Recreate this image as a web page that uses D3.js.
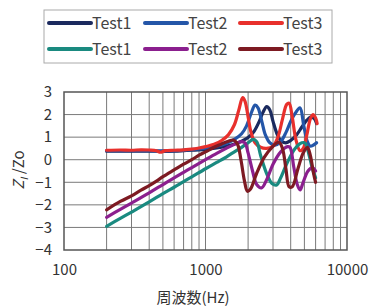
<!DOCTYPE html>
<html><head><meta charset="utf-8">
<script src="https://cdn.jsdelivr.net/npm/d3@7"></script>
<style>body{margin:0;background:#fff;}svg{display:block;}</style>
</head><body>
<svg id="c" width="370" height="307"></svg>
<script>
const legendLabels = ["Test1","Test2","Test3","Test1","Test2","Test3"];
const seriesColors = ["#1b2a5e","#2456a8","#e8302c","#1a8a80","#8b1f8e","#7d1a22"];
const xTicks = [100,1000,10000];
const yTicks = [3,2,1,0,-1,-2,-3,-4];

const navy1 = [[200,0.38],[300,0.38],[400,0.38],[500,0.37],[600,0.38],[700,0.40],[800,0.42],[1000,0.46],[1200,0.52],[1400,0.6],[1600,0.7],[1800,0.82],[2000,0.98],[2200,1.25],[2400,1.7],[2550,2.1],[2710,2.35],[2850,2.2],[3000,1.7],[3200,1.15],[3400,0.85],[3700,0.75],[4000,0.85],[4400,1.1],[4800,1.45],[5200,1.75],[5600,1.9],[5900,1.8],[6100,1.6]];
const blue2 = [[200,0.40],[300,0.40],[400,0.40],[500,0.39],[600,0.40],[700,0.42],[800,0.45],[900,0.48],[1000,0.52],[1200,0.60],[1400,0.72],[1600,0.9],[1800,1.15],[1950,1.5],[2100,2.05],[2240,2.42],[2350,2.3],[2500,1.7],[2650,1.1],[2850,0.75],[3100,0.65],[3400,0.8],[3700,1.2],[4000,1.7],[4300,2.05],[4650,2.3],[4950,1.5],[5250,0.8],[5500,0.6],[5800,0.65],[6100,0.75]];
const red3 = [[200,0.42],[250,0.43],[300,0.42],[350,0.44],[400,0.43],[450,0.40],[480,0.33],[520,0.40],[600,0.42],[700,0.44],[800,0.47],[900,0.52],[1000,0.58],[1150,0.68],[1300,0.85],[1450,1.1],[1600,1.55],[1720,2.2],[1830,2.75],[1900,2.6],[2000,1.9],[2100,1.2],[2240,0.75],[2450,0.55],[2700,0.5],[3000,0.6],[3250,1.0],[3500,1.8],[3750,2.45],[3900,2.5],[4100,1.9],[4350,0.9],[4650,0.4],[4900,0.5],[5200,1.1],[5500,1.8],[5750,2.0],[6000,1.85],[6150,1.6]];
const teal1 = [[200,-2.95],[250,-2.6],[300,-2.32],[400,-1.87],[500,-1.5],[600,-1.22],[700,-0.97],[800,-0.76],[1000,-0.4],[1200,-0.12],[1400,0.12],[1600,0.35],[1800,0.55],[2000,0.75],[2170,0.9],[2300,0.8],[2450,0.2],[2700,-0.6],[2950,-1.05],[3185,-1.12],[3400,-0.8],[3800,-0.1],[4300,0.5],[4800,0.75],[5050,0.74],[5400,0.2],[5700,-0.4],[6000,-0.8]];
const purple2 = [[200,-2.55],[250,-2.2],[300,-1.92],[400,-1.47],[500,-1.1],[600,-0.8],[700,-0.56],[800,-0.35],[1000,0.0],[1200,0.28],[1400,0.5],[1600,0.68],[1800,0.8],[1900,0.75],[2000,0.3],[2150,-0.5],[2300,-1.1],[2490,-1.25],[2700,-0.9],[3000,-0.2],[3400,0.35],[3800,0.58],[3955,0.55],[4200,-0.3],[4450,-1.1],[4660,-1.34],[4900,-1.0],[5300,-0.5],[5700,-0.35],[6000,-0.5]];
const darkred3 = [[200,-2.22],[250,-1.85],[300,-1.6],[350,-1.35],[400,-1.15],[450,-0.95],[500,-0.75],[600,-0.45],[700,-0.2],[800,0.0],[900,0.2],[1000,0.35],[1150,0.55],[1300,0.7],[1450,0.82],[1570,0.87],[1680,0.7],[1780,0.0],[1880,-0.9],[1980,-1.4],[2080,-1.3],[2300,-0.6],[2600,0.1],[2950,0.55],[3300,0.78],[3500,0.5],[3700,-0.4],[3900,-1.2],[4100,-1.2],[4500,-0.4],[4900,0.3],[5250,0.55],[5500,0.2],[5800,-0.6],[6000,-1.0]];

const series = [navy1, blue2, red3, teal1, purple2, darkred3];

const svg = d3.select("#c");
const L=64, R=347, T=92, B=250;
const x = d3.scaleLog().domain([100,10000]).range([L,R]);
const y = d3.scaleLinear().domain([-4,3]).range([B,T]);
const font = "'Noto Sans CJK JP','Noto Sans',sans-serif";

// grid
const minor = [];
[100,1000].forEach(d=>{for(let k=2;k<=9;k++) minor.push(d*k);});
minor.push(1000);
svg.append("g").selectAll("line").data(minor).join("line")
  .attr("x1",d=>x(d)).attr("x2",d=>x(d)).attr("y1",T).attr("y2",B)
  .attr("stroke","#7a7a7a").attr("stroke-width",1);
svg.append("g").selectAll("line").data(yTicks.filter(v=>v>-4&&v<3)).join("line")
  .attr("x1",L).attr("x2",R).attr("y1",d=>y(d)).attr("y2",d=>y(d))
  .attr("stroke","#7a7a7a").attr("stroke-width",1);
svg.append("rect").attr("x",L).attr("y",T).attr("width",R-L).attr("height",B-T)
  .attr("fill","none").attr("stroke","#555").attr("stroke-width",1.5);

// axes labels via d3 axes
const yAxis = svg.append("g").attr("transform",`translate(${L},0)`)
  .call(d3.axisLeft(y).tickValues(yTicks).tickSize(0).tickPadding(12).tickFormat(d=>d<0?"\u2212"+Math.abs(d):d));
yAxis.select(".domain").remove();
yAxis.selectAll("text").attr("font-family",font).attr("font-size",15).attr("fill","#333");
const xAxis = svg.append("g").attr("transform",`translate(0,${B})`)
  .call(d3.axisBottom(x).tickValues(xTicks).tickSize(0).tickPadding(14).tickFormat(d3.format("d")));
xAxis.select(".domain").remove();
xAxis.selectAll("text").attr("font-family",font).attr("font-size",15).attr("fill","#333");

// lines
const line = d3.line().x(d=>x(d[0])).y(d=>y(d[1])).curve(d3.curveCatmullRom.alpha(0.5));
svg.append("g").selectAll("path").data(series).join("path")
  .attr("d",line).attr("fill","none")
  .attr("stroke",(d,i)=>seriesColors[i]).attr("stroke-width",3.2)
  .attr("stroke-linejoin","round").attr("stroke-linecap","round");

// axis titles
const yt = svg.append("text").attr("transform","translate(24,170) rotate(-90)")
  .attr("text-anchor","middle").attr("font-family",font).attr("font-size",15).attr("fill","#333");
yt.append("tspan").attr("font-style","italic").text("Z");
yt.append("tspan").attr("font-size",10).attr("dy",4).attr("font-style","italic").text("I");
yt.append("tspan").attr("dy",-4).text(" /Zo");
svg.append("text").attr("x",193).attr("y",303).attr("text-anchor","middle")
  .attr("font-family",font).attr("font-size",15).attr("fill","#333").text("周波数(Hz)");

// legend
const lg = svg.append("g");
lg.append("rect").attr("x",44).attr("y",10).attr("width",288).attr("height",53)
  .attr("fill","#fff").attr("stroke","#aaa").attr("stroke-width",1);
const lx = [49,145,240], ly = [23,49];
legendLabels.forEach((t,i)=>{
  const cx = lx[i%3], cy = ly[Math.floor(i/3)];
  lg.append("line").attr("x1",cx).attr("x2",cx+42).attr("y1",cy).attr("y2",cy)
    .attr("stroke",seriesColors[i]).attr("stroke-width",4).attr("stroke-linecap","round");
  lg.append("text").attr("x",cx+43).attr("y",cy+5.5).attr("font-family",font)
    .attr("font-size",16).attr("fill","#444").text(t);
});
</script>
</body></html>
